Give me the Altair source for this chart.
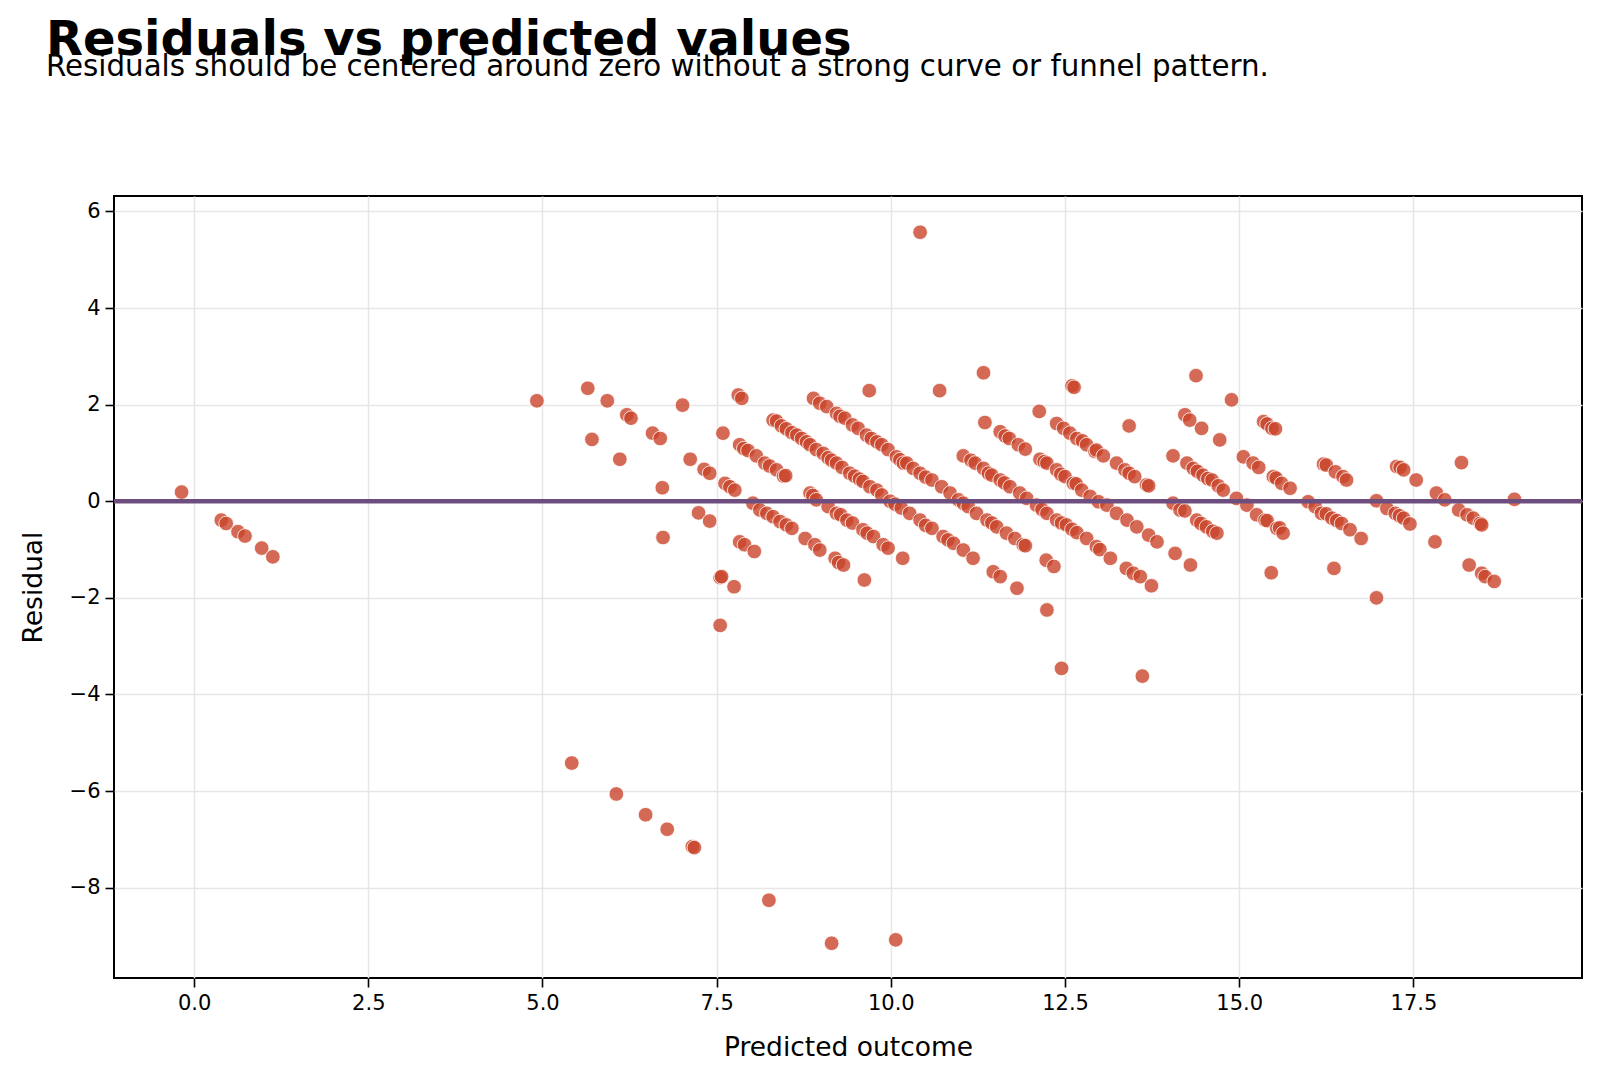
import altair as alt
import pandas as pd

# Predicted outcome values (x) and residuals (y)
pred = [
    -0.18, 0.39, 0.46, 0.63, 0.73, 0.97, 1.13,
    5.42, 6.06, 6.48, 6.79, 7.15, 7.18, 8.25, 9.15, 10.07,
    4.92, 5.65, 5.93, 6.21, 6.27, 5.71, 6.58, 6.69, 6.11, 7.01, 7.12, 7.32, 7.40, 6.72, 7.24, 7.40, 6.73, 7.55, 7.55,
    7.81, 7.86, 9.69, 7.59, 7.62, 7.69, 7.76,
    7.83, 7.89, 7.95, 8.07, 8.19, 8.26, 8.36, 8.46, 8.49,
    8.02, 8.12, 8.22, 8.31, 8.41, 8.50, 8.58,
    7.83, 7.90, 8.04, 7.57, 7.75,
    8.31, 8.36, 8.43, 8.50, 8.58, 8.65, 8.72, 8.79, 8.84, 8.93, 9.03, 9.10, 9.15, 9.22, 9.30, 9.41, 9.48, 9.55, 9.60, 9.70, 9.80, 9.87, 9.99, 10.06, 10.15,
    8.89, 8.98, 9.08, 9.22, 9.27, 9.34, 9.45, 9.53, 9.65, 9.72, 9.80, 9.87, 9.96, 10.08, 10.13, 10.18, 10.23,
    8.84, 8.88, 8.93, 9.10, 9.22, 9.28, 9.37, 9.45, 9.60, 9.66, 9.75, 9.89, 9.96,
    8.77, 8.91, 8.98, 9.20, 9.25, 9.32, 9.62, 10.17,
    10.70, 11.33, 12.60, 12.63, 12.13, 11.35,
    11.57, 11.64, 11.70, 11.83, 11.93, 12.14, 12.20, 12.24, 12.38, 12.44, 12.50, 12.62, 12.66, 12.74, 12.86, 12.98, 13.10, 13.24, 13.39, 13.53, 13.70, 13.82,
    12.38, 12.48, 12.57, 12.67, 12.75, 12.81, 12.93, 12.95, 13.05, 13.24, 13.36, 13.42, 13.50, 13.67, 13.70,
    11.04, 11.15, 11.21, 11.33, 11.40, 11.45, 11.57, 11.63, 11.71, 11.85, 11.95, 12.09, 12.17, 12.24, 12.38, 12.45, 12.52, 12.60, 12.67, 12.81, 12.95, 13.00, 13.15, 13.38, 13.48, 13.58, 13.74,
    10.32, 10.42, 10.50, 10.59, 10.73, 10.85, 10.97, 11.04, 11.11, 11.23, 11.38, 11.45, 11.52, 11.66, 11.78, 11.90, 11.93,
    10.27, 10.42, 10.50, 10.59, 10.75, 10.82, 10.90, 11.04, 11.18,
    11.47, 11.57, 11.81, 12.23, 12.34, 12.24,
    14.38, 14.89, 13.42, 14.22, 14.29, 14.46, 14.72, 15.35, 15.40, 15.47, 15.52, 14.05,
    14.25, 14.34, 14.40, 14.48, 14.55, 14.61, 14.70, 14.77, 14.96, 15.11,
    14.05, 14.15, 14.22, 14.39, 14.45, 14.53, 14.62, 14.68,
    14.08, 14.30,
    15.06, 15.20, 15.28, 15.49, 15.53, 15.61, 15.73,
    15.25, 15.37, 15.40, 15.54, 15.58, 15.63, 15.46,
    16.21, 16.25, 16.38, 16.49, 16.54,
    15.99, 16.09, 16.18, 16.25, 16.33, 16.40, 16.47, 16.59, 16.75, 16.36,
    17.26, 17.31, 17.36, 17.54,
    16.97, 17.12, 17.24, 17.30, 17.36, 17.45, 16.97, 17.81,
    18.19, 17.83, 17.95, 18.95, 18.15, 18.27, 18.36, 18.46, 18.48, 18.30, 18.48, 18.53, 18.66,
    10.42, 12.45, 13.61,
]

resid = [
    0.19, -0.39, -0.46, -0.63, -0.72, -0.97, -1.15,
    -5.42, -6.06, -6.49, -6.79, -7.15, -7.17, -8.26, -9.15, -9.08,
    2.08, 2.34, 2.08, 1.79, 1.72, 1.28, 1.41, 1.30, 0.87, 1.99, 0.87, 0.66, 0.58, 0.28, -0.24, -0.41, -0.75, -1.58, -2.57,
    2.20, 2.13, 2.29, 1.41, 0.37, 0.30, 0.23,
    1.17, 1.09, 1.05, 0.94, 0.79, 0.73, 0.65, 0.52, 0.53,
    -0.04, -0.18, -0.25, -0.32, -0.42, -0.49, -0.56,
    -0.84, -0.90, -1.04, -1.56, -1.77,
    1.68, 1.66, 1.56, 1.50, 1.42, 1.37, 1.30, 1.23, 1.17, 1.07, 0.99, 0.90, 0.85, 0.79, 0.70, 0.58, 0.52, 0.46, 0.41, 0.30, 0.23, 0.13, 0.00, -0.06, -0.14,
    2.13, 2.03, 1.96, 1.82, 1.76, 1.72, 1.58, 1.51, 1.37, 1.30, 1.23, 1.17, 1.07, 0.92, 0.86, 0.79, 0.79,
    0.17, 0.12, 0.03, -0.11, -0.25, -0.28, -0.39, -0.45, -0.59, -0.66, -0.73, -0.90, -0.97,
    -0.77, -0.90, -1.01, -1.18, -1.27, -1.32, -1.63, -1.18,
    2.29, 2.66, 2.39, 2.36, 1.86, 1.63,
    1.44, 1.35, 1.30, 1.17, 1.08, 0.87, 0.82, 0.79, 0.65, 0.56, 0.51, 0.37, 0.36, 0.23, 0.10, -0.01, -0.08, -0.25, -0.39, -0.53, -0.70, -0.84,
    1.61, 1.51, 1.41, 1.30, 1.25, 1.17, 1.03, 1.06, 0.94, 0.79, 0.65, 0.58, 0.51, 0.34, 0.32,
    0.94, 0.85, 0.79, 0.68, 0.58, 0.54, 0.44, 0.38, 0.30, 0.17, 0.06, -0.08, -0.17, -0.25, -0.39, -0.45, -0.49, -0.58, -0.65, -0.77, -0.94, -1.00, -1.18, -1.39, -1.49, -1.56, -1.75,
    0.68, 0.58, 0.50, 0.44, 0.30, 0.17, 0.03, -0.04, -0.11, -0.25, -0.39, -0.45, -0.53, -0.66, -0.77, -0.90, -0.92,
    -0.25, -0.39, -0.50, -0.56, -0.73, -0.80, -0.87, -1.01, -1.18,
    -1.46, -1.56, -1.80, -1.22, -1.35, -2.25,
    2.60, 2.10, 1.56, 1.79, 1.68, 1.51, 1.27, 1.65, 1.60, 1.51, 1.50, 0.94,
    0.79, 0.68, 0.62, 0.54, 0.47, 0.44, 0.32, 0.23, 0.06, -0.08,
    -0.04, -0.18, -0.20, -0.39, -0.46, -0.53, -0.62, -0.66,
    -1.08, -1.32,
    0.92, 0.79, 0.70, 0.51, 0.48, 0.37, 0.27,
    -0.28, -0.39, -0.40, -0.56, -0.55, -0.66, -1.48,
    0.77, 0.75, 0.61, 0.51, 0.44,
    -0.01, -0.11, -0.25, -0.26, -0.35, -0.40, -0.46, -0.59, -0.77, -1.39,
    0.72, 0.70, 0.65, 0.44,
    0.01, -0.15, -0.25, -0.30, -0.35, -0.47, -2.00, -0.84,
    0.80, 0.17, 0.03, 0.04, -0.18, -0.28, -0.35, -0.46, -0.49, -1.32, -1.49, -1.56, -1.66,
    5.57, -3.46, -3.62,
]

x_ticks = [0.0, 2.5, 5.0, 7.5, 10.0, 12.5, 15.0, 17.5]
y_ticks = [-8, -6, -4, -2, 0, 2, 4, 6]
zero_line = [0]

df = pd.DataFrame({"pred": pred, "resid": resid})
zdf = pd.DataFrame({"z": zero_line})

xscale = alt.Scale(domain=[-1.15, 19.92], nice=False, zero=False)
yscale = alt.Scale(domain=[-9.87, 6.32], nice=False, zero=False)

points = alt.Chart(df).mark_circle(
    size=215, color="#c9452a", fillOpacity=0.8, stroke="white", strokeWidth=1, strokeOpacity=0.8, opacity=1
).encode(
    x=alt.X("pred:Q", scale=xscale,
            axis=alt.Axis(values=x_ticks, format=".1f", title="Predicted outcome", titlePadding=21)),
    y=alt.Y("resid:Q", scale=yscale,
            axis=alt.Axis(values=y_ticks, format="d", title="Residual", titlePadding=22)),
)

rule = alt.Chart(zdf).mark_rule(color="#6e4e7e", strokeWidth=4.5).encode(
    y=alt.Y("z:Q", scale=yscale)
)

chart = alt.layer(points, rule).properties(
    width=1468,
    height=782,
    padding={"left": 114, "top": 196, "right": 18, "bottom": 103},
    autosize=alt.AutoSizeParams(type="none"),
    background="white",
    title=alt.TitleParams(
        text="Residuals vs predicted values",
        subtitle="Residuals should be centered around zero without a strong curve or funnel pattern.",
        anchor="start",
        frame="group",
        dx=-68,
        offset=114,
        font="DejaVu Sans",
        fontSize=48,
        fontWeight="bold",
        color="black",
        subtitleFont="DejaVu Sans",
        subtitleFontSize=29.3,
        subtitleColor="black",
        subtitlePadding=-12,
    ),
).configure_view(
    stroke="black", strokeWidth=2
).configure_axis(
    domain=False,
    grid=True,
    gridColor="#e6e6e6",
    gridWidth=1.5,
    tickColor="black",
    tickWidth=1.6,
    tickSize=9,
    labelFont="DejaVu Sans",
    labelFontSize=21,
    labelColor="black",
    labelPadding=5,
    titleFont="DejaVu Sans",
    titleFontSize=26.5,
    titleFontWeight="normal",
    titleColor="black",
)

chart.save("out.html", embed_options={"renderer": "svg", "actions": False})
